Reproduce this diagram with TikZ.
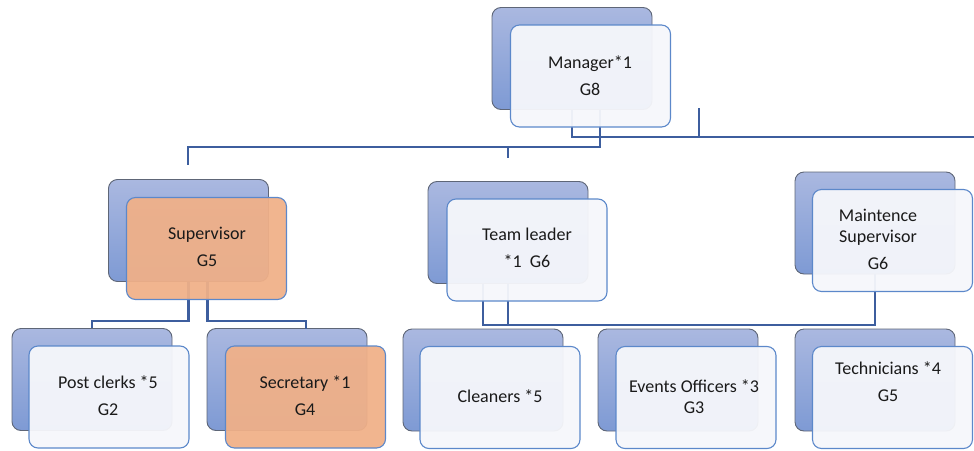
\documentclass[tikz,border=0pt]{standalone}
\usepackage{fontspec}
\setmainfont{Carlito}
\usetikzlibrary{calc}
\definecolor{backtop}{HTML}{AAB8E0}
\definecolor{backbot}{HTML}{7E9AD4}
\definecolor{backline}{HTML}{5E6677}
\definecolor{frontfill}{HTML}{F6F7FB}
\definecolor{frontline}{HTML}{5C88CA}
\definecolor{orangefill}{HTML}{F0B088}
\definecolor{conn}{HTML}{3D5E9E}
\definecolor{txt}{HTML}{1A1A1A}
\tikzset{
 backbox/.style={draw=backline, line width=0.9pt, rounded corners=9pt, top color=backtop, bottom color=backbot, minimum width=160pt, minimum height=102pt, inner sep=0pt},
 frontbox/.style={draw=frontline, line width=1.1pt, rounded corners=9pt, fill=frontfill, fill opacity=0.95, minimum width=160pt, minimum height=102pt, inner sep=0pt},
 orangebox/.style={frontbox, fill=orangefill, fill opacity=0.94},
 lbl/.style={text=txt, font=\fontsize{18}{27}\selectfont, align=center, inner sep=0pt},
 lbltight/.style={lbl, font=\fontsize{18}{21}\selectfont},
 conline/.style={draw=conn, line width=2.6pt},
}
\begin{document}
\begin{tikzpicture}[x=1pt,y=-1pt]
\useasboundingbox (0,0) rectangle (974,450);
% back boxes
\node[backbox] (mgrB) at (572,58.5) {};
\node[backbox] (supB) at (188.5,230.5) {};
\node[backbox] (pcB) at (92,379.5) {};
\node[backbox] (secB) at (287,379.5) {};
\node[backbox] (tlB) at (508,232.5) {};
\node[backbox] (msB) at (875,223) {};
\node[backbox] (clB) at (483,380) {};
\node[backbox] (evB) at (678,380) {};
\node[backbox] (teB) at (875,380) {};
% connectors
\coordinate (rightEnd) at (974,137);
\coordinate (mtick) at (699,108);
\coordinate (hub) at (600,147);
\coordinate (supEnd) at (188,165);
\coordinate (tlEnd) at (508,158);
\coordinate (sbar) at (0,321);
\coordinate (tbar) at (0,325);
\coordinate (secTop) at (306,329);
\draw[conline] (mgrB.south) |- (rightEnd);
\draw[conline] (mtick) -- (mtick |- rightEnd);
\draw[conline] (mgrB.south -| hub) -- (hub) -| (supEnd);
\draw[conline] (tlEnd |- hub) -- (tlEnd);
\draw[conline] (supB.south) -- (supB.south |- sbar) -| (pcB.north);
\draw[conline] ([xshift=19pt]supB.south) -- ([xshift=19pt]supB.south |- sbar) -| (secTop);
\draw[conline] (tlB.south) -- (tlB.south |- tbar);
\draw[conline] (clB.north |- tlB.south) -- (clB.north |- tbar) -| (msB.south);
% front boxes
\node[frontbox] (mgrF) at (590.5,76) {};
\node[orangebox] (supF) at (206.5,248.5) {};
\node[frontbox] (pcF) at (109,397) {};
\node[orangebox] (secF) at (305.5,397) {};
\node[frontbox] (tlF) at (527,250) {};
\node[frontbox] (msF) at (892.5,240.5) {};
\node[frontbox] (clF) at (500,397.5) {};
\node[frontbox] (evF) at (696,397.5) {};
\node[frontbox] (teF) at (892.5,397.5) {};
% labels
\node[lbl] (mgrT) at (590,75.5) {Manager*1\\G8};
\node[lbl] (supT) at (207,247) {Supervisor\\G5};
\node[lbl] (pcT) at (108,396) {Post clerks *5\\G2};
\node[lbl] (secT) at (305,396) {Secretary *1\\G4};
\node[lbl] (tlT) at (527,248) {Team leader\\*1~~G6};
\node[lbltight] (msT) at (878,239) {Maintence\\Supervisor\\[6pt]G6};
\node[lbl] (clT) at (500,396) {Cleaners *5};
\node[lbltight] (evT) at (694,396.5) {Events Officers *3\\G3};
\node[lbl] (teT) at (888,381.5) {Technicians *4\\G5};
\end{tikzpicture}
\end{document}
